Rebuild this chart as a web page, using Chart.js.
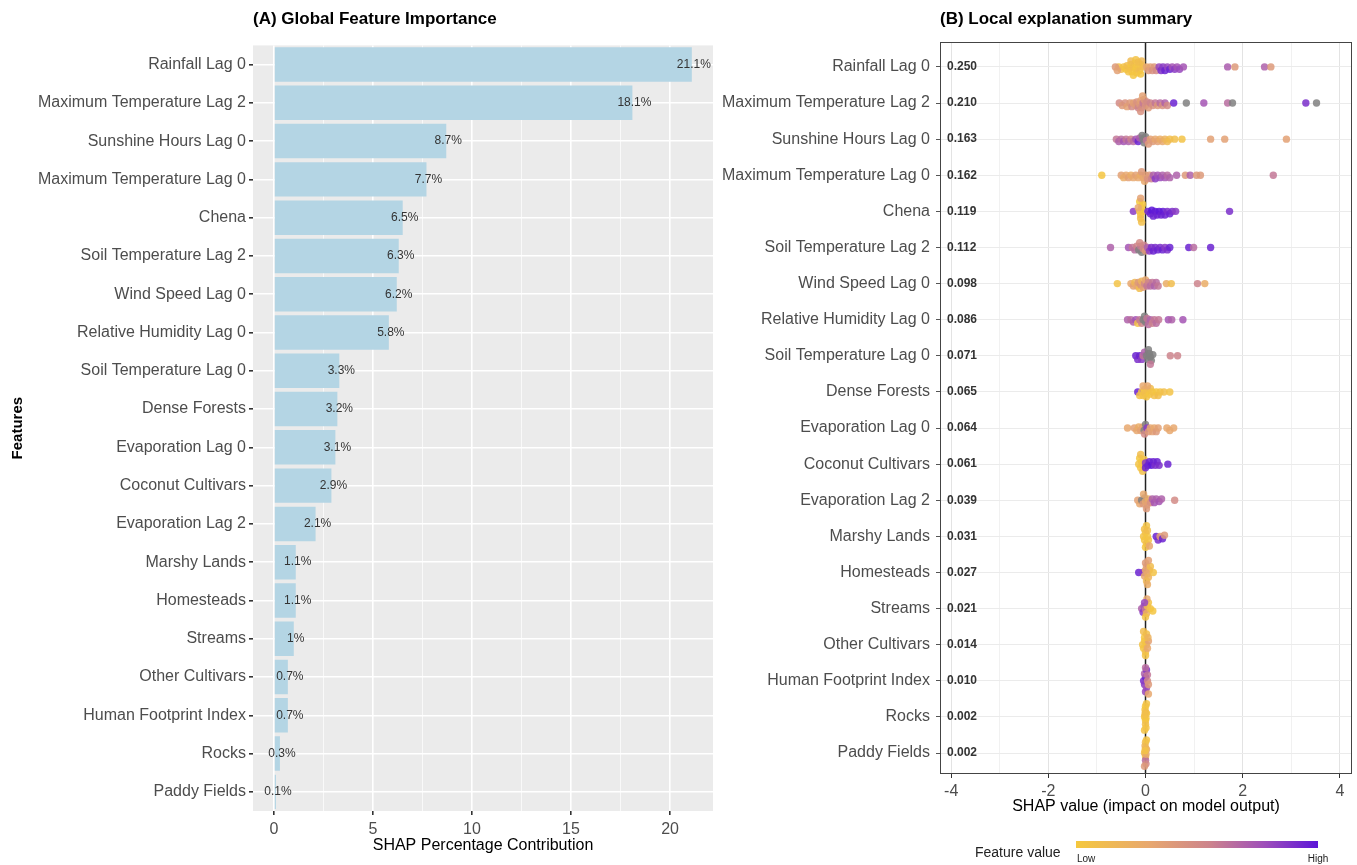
<!DOCTYPE html>
<html lang="en">
<head>
<meta charset="UTF-8">
<title>SHAP Feature Importance</title>
<script src="https://cdn.jsdelivr.net/npm/chart.js@4.4.0/dist/chart.umd.min.js"></script>
<style>
    body { margin: 0; background: #fff; }
    .wrap { position: relative; width: 1357px; height: 865px; }
    #leftBox { position: absolute; left: 0; top: 0; width: 720px; height: 865px; }
    #rightBox { position: absolute; left: 700px; top: 0; width: 657px; height: 865px; }
</style>
</head>
<body>
<div class="wrap">
    <div id="leftBox"><canvas id="importanceChart" width="720" height="865"></canvas></div>
    <div id="rightBox"><canvas id="summaryChart" width="657" height="865"></canvas></div>
</div>
<script>
// ---- data ----
const features = [
    'Rainfall Lag 0', 'Maximum Temperature Lag 2', 'Sunshine Hours Lag 0', 'Maximum Temperature Lag 0',
    'Chena', 'Soil Temperature Lag 2', 'Wind Speed Lag 0', 'Relative Humidity Lag 0',
    'Soil Temperature Lag 0', 'Dense Forests', 'Evaporation Lag 0', 'Coconut Cultivars',
    'Evaporation Lag 2', 'Marshy Lands', 'Homesteads', 'Streams', 'Other Cultivars',
    'Human Footprint Index', 'Rocks', 'Paddy Fields'
];
const shapPercent = [21.1, 18.1, 8.7, 7.7, 6.5, 6.3, 6.2, 5.8, 3.3, 3.2, 3.1, 2.9, 2.1, 1.1, 1.1, 1.0, 0.7, 0.7, 0.3, 0.1];
const meanAbsShap = [0.250, 0.210, 0.163, 0.162, 0.119, 0.112, 0.098, 0.086, 0.071, 0.065, 0.064, 0.061, 0.039, 0.031, 0.027, 0.021, 0.014, 0.010, 0.002, 0.002];
const pctTicks = [0, 5, 10, 15, 20];
const shapTicks = [-4, -2, 0, 2, 4];

// [shap value, feature value 0..1 (null = missing)]
const rainfallLag0 = [[-0.55,0.05],[-0.5,0.1],[-0.45,0.05],[-0.4,0.02],[-0.38,0.1],[-0.35,0.05],[-0.32,0.08],[-0.3,0.02],[-0.28,0.05],[-0.25,0.1],[-0.22,0.05],[-0.2,0.02],[-0.18,0.08],[-0.15,0.05],[-0.12,0.1],[-0.1,0.05],[-0.08,0.15],[-0.05,0.1],[-0.3,0.12],[-0.25,0.02],[-0.2,0.05],[-0.15,0.1],[-0.1,0.02],[-0.62,0.4],[-0.58,0.35],[0.02,0.3],[0.06,0.4],[0.1,0.35],[0.14,0.45],[0.18,0.4],[0.22,0.5],[0.28,0.8],[0.32,0.9],[0.36,0.85],[0.4,0.95],[0.45,0.8],[0.5,0.95],[0.55,0.75],[0.6,0.85],[0.65,0.75],[0.7,0.8],[0.78,0.75],[1.69,0.72],[1.84,0.4],[2.45,0.7],[2.58,0.4]];
const maxTempLag2 = [[-0.54,0.5],[-0.48,0.4],[-0.42,0.45],[-0.38,0.35],[-0.32,0.4],[-0.28,0.5],[-0.25,0.35],[-0.2,0.4],[-0.18,0.45],[-0.15,0.55],[-0.12,0.4],[-0.1,0.35],[-0.08,0.5],[-0.05,0.6],[-0.03,0.4],[0,0.45],[-0.06,0.35],[-0.1,0.45],[0.03,0.5],[0.06,0.4],[0.1,0.55],[0.15,0.45],[0.2,0.6],[0.25,0.4],[0.3,0.65],[0.35,0.45],[0.4,0.7],[0.45,0.5],[0.58,0.95],[0.84,null],[1.2,0.75],[1.69,0.65],[1.79,null],[3.3,0.9],[3.52,null]];
const sunshineLag0 = [[-0.6,0.6],[-0.55,0.7],[-0.5,0.65],[-0.45,0.75],[-0.4,0.6],[-0.35,0.7],[-0.3,0.55],[-0.25,0.65],[-0.2,0.75],[-0.15,0.95],[-0.12,0.7],[-0.05,null],[-0.03,null],[0,null],[-0.07,null],[0.02,0.6],[0.06,0.4],[0.1,0.35],[0.15,0.4],[0.2,0.3],[0.25,0.35],[0.3,0.25],[0.35,0.3],[0.4,0.2],[0.45,0.15],[0.5,0.1],[0.6,0.08],[0.75,0.05],[1.34,0.35],[1.63,0.35],[2.9,0.35]];
const maxTempLag0 = [[-0.9,0.02],[-0.5,0.35],[-0.45,0.25],[-0.4,0.3],[-0.35,0.35],[-0.3,0.25],[-0.25,0.3],[-0.2,0.35],[-0.15,0.3],[-0.1,0.25],[-0.05,0.3],[0,0.35],[-0.08,0.4],[-0.02,0.3],[0.04,0.45],[0.08,0.4],[0.12,0.55],[0.16,0.7],[0.2,0.85],[0.25,0.75],[0.3,0.8],[0.35,0.7],[0.4,0.75],[0.45,0.65],[0.5,0.7],[0.64,0.7],[0.82,0.4],[0.92,0.7],[1.05,0.4],[1.13,0.4],[2.63,0.6]];
const chena = [[-0.25,0.85],[-0.12,0.05],[-0.1,0.02],[-0.08,0.05],[-0.1,0.1],[-0.06,0.03],[-0.12,0],[-0.08,0.08],[-0.1,0.35],[-0.05,0.05],[-0.15,0.3],[0.05,0.95],[0.1,0.95],[0.13,1],[0.16,0.95],[0.2,0.98],[0.24,0.95],[0.28,1],[0.32,0.95],[0.36,0.98],[0.4,0.95],[0.45,0.9],[0.5,0.95],[0.55,0.9],[0.62,0.85],[1.73,0.9]];
const soilTempLag2 = [[-0.72,0.7],[-0.35,0.75],[-0.27,0.6],[-0.22,0.65],[-0.18,0.55],[-0.14,null],[-0.1,0.6],[-0.08,null],[-0.05,0.5],[-0.03,0.55],[0,0.4],[-0.12,0.5],[0.04,0.7],[0.08,0.85],[0.12,0.9],[0.16,0.95],[0.2,0.9],[0.25,0.95],[0.3,0.9],[0.35,0.95],[0.4,0.85],[0.45,0.9],[0.5,0.95],[0.89,0.95],[0.99,0.65],[1.34,0.95]];
const windSpeedLag0 = [[-0.58,0.05],[-0.3,0.3],[-0.25,0.35],[-0.22,0.15],[-0.18,0.3],[-0.15,0.4],[-0.12,0.1],[-0.1,0.45],[-0.08,0.2],[-0.05,0.35],[-0.02,0.5],[0,0.3],[0.03,0.6],[0.06,0.55],[0.1,0.65],[0.14,0.6],[0.18,0.7],[0.22,0.65],[0.26,0.6],[0.43,0.25],[0.53,0.1],[1.07,0.55],[1.22,0.25]];
const humidityLag0 = [[-0.37,0.7],[-0.3,0.65],[-0.25,0.7],[-0.2,0.75],[-0.16,0.05],[-0.12,0.6],[-0.08,0.55],[-0.05,null],[-0.02,null],[0,null],[0.03,0.6],[0.06,0.65],[0.1,0.7],[0.14,0.55],[0.18,0.6],[0.22,0.65],[0.27,0.6],[0.47,0.75],[0.54,0.7],[0.77,0.75]];
const soilTempLag0 = [[-0.2,0.95],[-0.16,0.9],[-0.12,0.95],[-0.08,0.85],[-0.05,0.6],[-0.02,0.7],[0.02,null],[0.05,null],[0.08,null],[0.1,null],[0.12,null],[0.15,null],[0.06,null],[0.1,0.6],[0.51,0.55],[0.66,0.55]];
const denseForests = [[-0.16,0.95],[-0.12,0.05],[-0.08,0.1],[-0.05,0.05],[-0.02,0.02],[0,0.1],[0.02,0.05],[0.05,0.08],[0.08,0.02],[0.1,0.1],[0.14,0.05],[0.18,0.08],[0.22,0.02],[0.26,0.1],[0.3,0.05],[0.38,0.08],[0.5,0.05],[-0.05,0.3],[0.04,0.3]];
const evaporationLag0 = [[-0.37,0.3],[-0.23,0.35],[-0.18,0.3],[-0.14,0.25],[-0.1,0.35],[-0.06,0.3],[-0.03,null],[0,null],[-0.02,0.5],[0.03,0.85],[0.06,0.4],[0.1,0.3],[0.14,0.35],[0.18,0.3],[0.22,0.4],[0.26,0.35],[0.44,0.3],[0.5,0.3],[0.58,0.3]];
const coconutCultivars = [[-0.14,0.05],[-0.1,0.02],[-0.08,0.05],[-0.05,0.03],[-0.12,0],[-0.06,0.08],[-0.1,0.1],[-0.03,0.05],[0,0.85],[0.05,0.95],[0.08,0.95],[0.12,1],[0.16,0.95],[0.2,0.9],[0.24,0.95],[0.28,0.9],[0,0.95],[0.46,0.95]];
const evaporationLag2 = [[-0.16,0.35],[-0.12,0.3],[-0.08,null],[-0.05,0.4],[-0.02,null],[0,0.3],[0.03,0.35],[0.06,0.25],[0.1,0.45],[0.14,0.7],[0.18,0.75],[0.22,0.7],[0.28,0.75],[0.33,0.7],[0.6,0.5],[-0.04,0.3],[0.02,0.4]];
const marshyLands = [[-0.04,0.05],[-0.02,0.02],[0,0.05],[0.02,0.1],[0.04,0.03],[0.06,0.05],[-0.02,0.08],[0,0.02],[0.02,0.05],[0.04,0.1],[0.08,0.3],[0.22,0.95],[0.26,0.9],[0.3,0.35],[0.35,0.95],[0.39,0.4]];
const homesteads = [[-0.14,0.95],[-0.05,0.85],[-0.02,0.3],[0,0.25],[0.02,0.35],[0.04,0.3],[0.06,0.2],[0.08,0.3],[0.02,0.15],[0,0.4],[0.04,0.25],[0.16,0.05],[0.1,0.1],[0.06,0.35]];
const streams = [[-0.08,0.7],[-0.05,0.85],[-0.03,0.75],[0,0.6],[0.02,0.2],[0.04,0.1],[0.06,0.05],[0.1,0.05],[0.15,0.02],[0,0.05],[0.03,0.3],[-0.02,0.8]];
const otherCultivars = [[-0.06,0.05],[-0.04,0.02],[-0.02,0.05],[0,0.1],[0.02,0.05],[0.04,0.3],[0.06,0.35],[-0.02,0.02],[0,0.05],[0.02,0.08],[0.05,0.2],[-0.04,0.1]];
const humanFootprint = [[-0.04,0.9],[-0.02,0.85],[0,0.95],[0.02,0.75],[0.04,0.5],[0.06,0.4],[-0.02,0.7],[0,0.8],[0.02,0.9],[0.04,0.6],[0,0.65],[0.06,0.3]];
const rocks = [[-0.02,0.02],[0,0.05],[0.02,0.02],[0,0.08],[-0.01,0.03],[0.01,0.05],[0,0.02],[0.02,0.05],[-0.02,0.05],[0,0.1],[0.01,0.02],[-0.01,0.08]];
const paddyFields = [[-0.02,0.1],[0,0.05],[0.02,0.3],[0,0.65],[-0.01,0.2],[0.01,0.5],[0,0.1],[0.02,0.05],[-0.02,0.4],[0,0.15],[0.01,0.3],[-0.01,0.05]];

const swarmRows = [rainfallLag0, maxTempLag2, sunshineLag0, maxTempLag0, chena, soilTempLag2, windSpeedLag0,
    humidityLag0, soilTempLag0, denseForests, evaporationLag0, coconutCultivars, evaporationLag2,
    marshyLands, homesteads, streams, otherCultivars, humanFootprint, rocks, paddyFields];

// ---- helpers ----
Chart.defaults.font.family = '"Liberation Sans", Arial, Helvetica, sans-serif';

const colourStops = [[0, [245, 200, 62]], [0.3, [232, 168, 110]], [0.55, [205, 132, 140]], [0.78, [158, 78, 186]], [1, [92, 22, 216]]];
function featureColour(fv, alpha) {
    if (fv === null) return 'rgba(128,128,128,' + alpha + ')';
    for (let i = 1; i < colourStops.length; i++) {
        const [p1, c1] = colourStops[i];
        const [p0, c0] = colourStops[i - 1];
        if (fv <= p1) {
            const t = (fv - p0) / (p1 - p0);
            const c = c0.map((v, k) => Math.round(v + (c1[k] - v) * t));
            return 'rgba(' + c.join(',') + ',' + alpha + ')';
        }
    }
    return 'rgba(92,22,216,' + alpha + ')';
}

// simple beeswarm: stack points vertically so they don't pile up on one line
const PX_PER_SHAP = 48.5, PX_PER_ROW = 36.1;
function swarmOffsets(points) {
    const placed = [];
    return points.map(([v]) => {
        const px = v * PX_PER_SHAP;
        let best = 0, bestDist = -1;
        for (let k = 0; k < 30; k++) {
            const dy = (k % 2 ? 1 : -1) * Math.ceil(k / 2) * 1.2;
            if (Math.abs(dy) > 14) break;
            let d = Infinity;
            placed.forEach(p => { d = Math.min(d, Math.hypot(p.x - px, p.y - dy)); });
            if (d >= 3.2) { best = dy; bestDist = d; break; }
            if (d > bestDist) { bestDist = d; best = dy; }
        }
        placed.push({ x: px, y: best });
        return best / PX_PER_ROW;
    });
}

const swarmPoints = [];
const swarmColours = [];
swarmRows.forEach((row, i) => {
    const offs = swarmOffsets(row);
    row.forEach((p, j) => {
        swarmPoints.push({ x: p[0], y: i + offs[j] });
        swarmColours.push(featureColour(p[1], 0.85));
    });
});

// ---- plugins ----
const panelBackground = {
    id: 'panelBackground',
    beforeDraw(chart, args, opts) {
        const a = chart.chartArea, ctx = chart.ctx;
        ctx.save();
        ctx.fillStyle = opts.color;
        ctx.fillRect(a.left, a.top, a.right - a.left, a.bottom - a.top);
        ctx.restore();
    }
};

const barLabels = {
    id: 'barLabels',
    afterDatasetsDraw(chart) {
        const ctx = chart.ctx, xs = chart.scales.x, ys = chart.scales.y;
        ctx.save();
        ctx.font = '12px "Liberation Sans", Arial, sans-serif';
        ctx.fillStyle = '#333';
        ctx.textAlign = 'center';
        ctx.textBaseline = 'middle';
        shapPercent.forEach((v, i) => {
            ctx.fillText(v + '%', xs.getPixelForValue(v) + 2, ys.getPixelForValue(i));
        });
        ctx.restore();
    }
};

const summaryDecor = {
    id: 'summaryDecor',
    beforeDatasetsDraw(chart) {
        const ctx = chart.ctx, a = chart.chartArea, x0 = chart.scales.x.getPixelForValue(0);
        ctx.save();
        ctx.strokeStyle = '#222';
        ctx.lineWidth = 1.5;
        ctx.beginPath();
        ctx.moveTo(x0, a.top);
        ctx.lineTo(x0, a.bottom);
        ctx.stroke();
        ctx.restore();
    },
    afterDraw(chart) {
        const ctx = chart.ctx, a = chart.chartArea, ys = chart.scales.y;
        ctx.save();
        // panel border
        ctx.strokeStyle = '#444';
        ctx.lineWidth = 1;
        ctx.strokeRect(a.left + 0.5, a.top + 0.5, a.right - a.left - 1, a.bottom - a.top - 1);
        // mean |SHAP| labels
        ctx.font = 'bold 12px "Liberation Sans", Arial, sans-serif';
        ctx.fillStyle = '#333';
        ctx.textAlign = 'left';
        ctx.textBaseline = 'middle';
        meanAbsShap.forEach((v, i) => ctx.fillText(v.toFixed(3), a.left + 7, ys.getPixelForValue(i)));
        // colour legend
        const gx = 376, gw = 242, gy = 841, gh = 7;
        const grad = ctx.createLinearGradient(gx, 0, gx + gw, 0);
        colourStops.forEach(([p, c]) => grad.addColorStop(p, 'rgb(' + c.join(',') + ')'));
        ctx.fillStyle = grad;
        ctx.fillRect(gx, gy, gw, gh);
        ctx.fillStyle = '#222';
        ctx.font = '14px "Liberation Sans", Arial, sans-serif';
        ctx.textAlign = 'left';
        ctx.fillText('Feature value', 275, 853);
        ctx.font = '10px "Liberation Sans", Arial, sans-serif';
        ctx.fillText('Low', gx + 1, 859);
        ctx.textAlign = 'center';
        ctx.fillText('High', gx + gw, 859);
        ctx.restore();
    }
};

// ---- (A) global importance ----
new Chart(document.getElementById('importanceChart'), {
    type: 'bar',
    data: {
        labels: features,
        datasets: [{
            data: shapPercent,
            backgroundColor: '#b4d5e4',
            barPercentage: 0.9,
            categoryPercentage: 1
        }]
    },
    options: {
        responsive: false,
        animation: false,
        indexAxis: 'y',
        layout: { padding: { left: 0, right: 7, top: 0, bottom: 0 } },
        plugins: {
            legend: { display: false },
            tooltip: { enabled: false },
            panelBackground: { color: '#ebebeb' },
            title: {
                display: true, text: '(A) Global Feature Importance', align: 'start', fullSize: false,
                color: '#000', font: { size: 17, weight: 'bold' }, padding: { top: 9, bottom: 16 }
            }
        },
        scales: {
            x: {
                min: -1.06, max: 22.17,
                ticks: {
                    stepSize: 2.5, includeBounds: false, autoSkip: false, maxRotation: 0,
                    color: '#4d4d4d', font: { size: 16 }, padding: 5,
                    callback: v => pctTicks.includes(v) ? v : ''
                },
                grid: {
                    color: '#fff',
                    lineWidth: c => pctTicks.includes(c.tick && c.tick.value) ? 1.6 : 0.7,
                    tickColor: c => pctTicks.includes(c.tick && c.tick.value) ? '#333' : 'rgba(0,0,0,0)',
                    tickLength: 4
                },
                border: { display: false },
                title: { display: true, text: 'SHAP Percentage Contribution', color: '#000', font: { size: 16 }, padding: { top: 0, bottom: 10 } },
                afterFit: s => { s.height = 54; }
            },
            y: {
                grid: { offset: false, color: '#fff', lineWidth: 1.6, tickColor: '#333', tickLength: 4 },
                border: { display: false },
                ticks: { color: '#4d4d4d', font: { size: 16 }, padding: 3, autoSkip: false },
                title: { display: true, text: 'Features', color: '#000', font: { size: 15, weight: 'bold' }, padding: { top: 9, bottom: 0 } },
                afterFit: s => { s.width = 253; }
            }
        }
    },
    plugins: [panelBackground, barLabels]
});

// ---- (B) local explanation summary ----
new Chart(document.getElementById('summaryChart'), {
    type: 'scatter',
    data: {
        datasets: [{
            data: swarmPoints,
            pointRadius: 3.7,
            pointBorderWidth: 0,
            pointBackgroundColor: swarmColours
        }]
    },
    options: {
        responsive: false,
        animation: false,
        layout: { padding: { left: 0, right: 5, top: 0, bottom: 49 } },
        plugins: {
            legend: { display: false },
            tooltip: { enabled: false },
            title: {
                display: true, text: '(B) Local explanation summary', align: 'start', fullSize: false,
                color: '#000', font: { size: 17, weight: 'bold' }, padding: { top: 9, bottom: 12.6 }
            }
        },
        scales: {
            x: {
                type: 'linear', min: -4.23, max: 4.25,
                ticks: {
                    stepSize: 1, includeBounds: false, autoSkip: false, maxRotation: 0,
                    color: '#4d4d4d', font: { size: 16 }, padding: 4,
                    callback: v => shapTicks.includes(v) ? v : ''
                },
                grid: {
                    color: c => shapTicks.includes(c.tick && c.tick.value) ? '#e3e3e3' : '#f1f1f1',
                    lineWidth: 1,
                    tickColor: c => shapTicks.includes(c.tick && c.tick.value) ? '#333' : 'rgba(0,0,0,0)',
                    tickLength: 4
                },
                border: { display: false },
                title: { display: true, text: 'SHAP value (impact on model output)', color: '#000', font: { size: 16 }, padding: { top: 0, bottom: 0 } },
                afterFit: s => { s.height = 42; }
            },
            y: {
                type: 'linear', reverse: true, min: -0.69, max: 19.58,
                ticks: {
                    stepSize: 1, includeBounds: false, autoSkip: false,
                    color: '#4d4d4d', font: { size: 16 }, padding: 6,
                    callback: v => features[v]
                },
                grid: { color: '#ebebeb', lineWidth: 1, tickColor: '#555', tickLength: 4 },
                border: { display: false },
                afterFit: s => { s.width = 240; }
            }
        }
    },
    plugins: [summaryDecor]
});
</script>
</body>
</html>
